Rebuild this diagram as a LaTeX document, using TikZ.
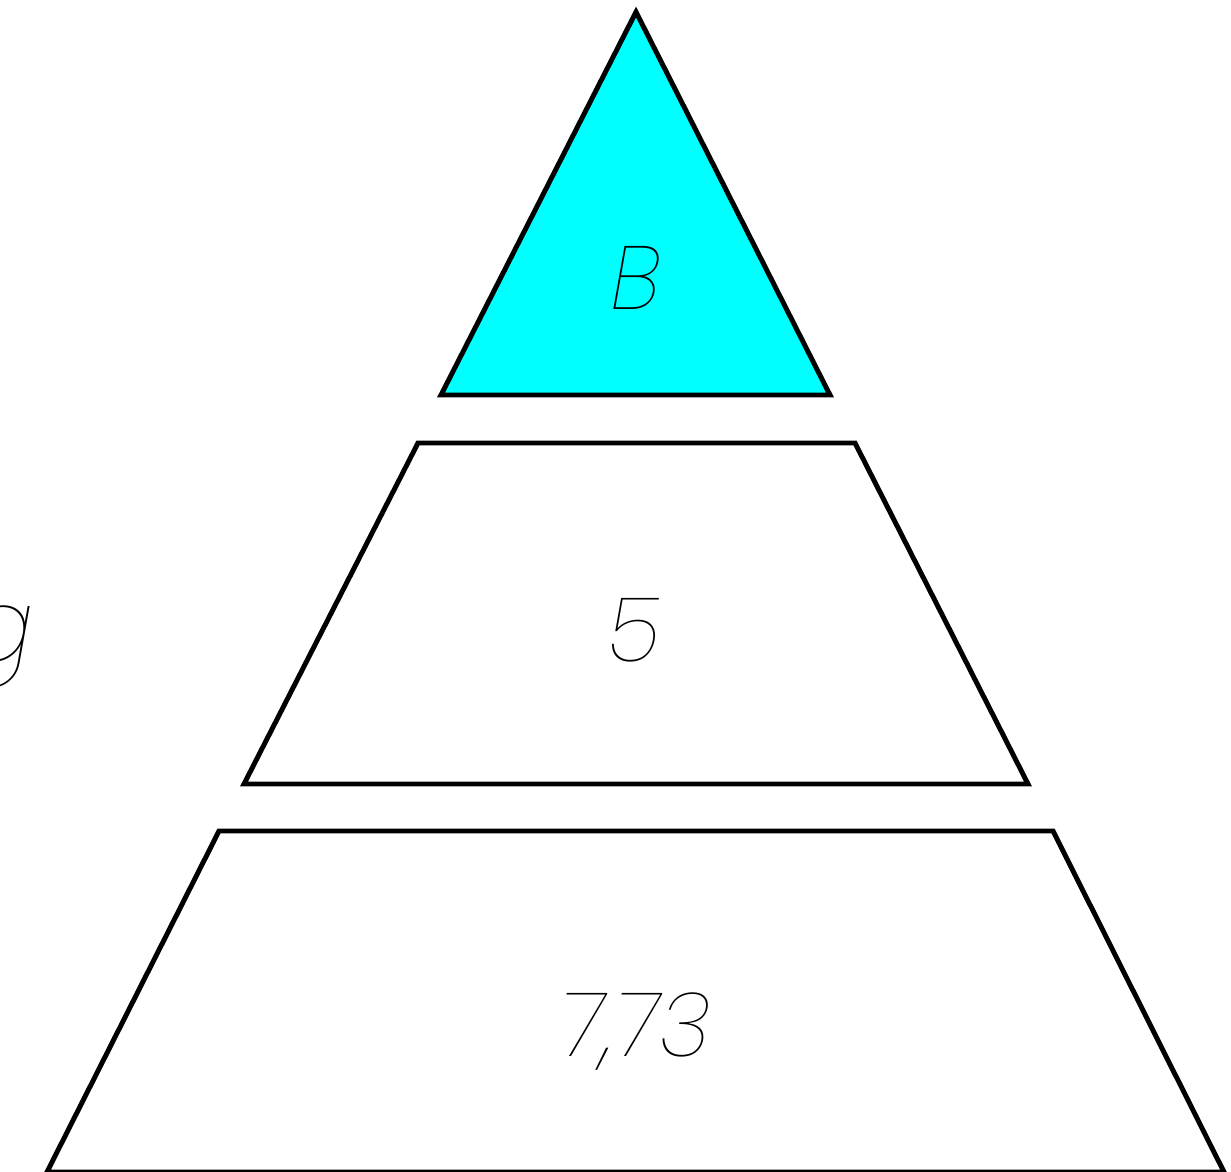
\documentclass[tikz,border=0pt]{standalone}
\usepackage{fontspec}
\newfontfamily\thinit{Poppins}[UprightFont={* Thin Italic}]
\usepackage{tikz}
\usetikzlibrary{positioning}
\definecolor{tipfill}{HTML}{00FFFF}
\tikzset{
  tier/.style ={draw=black, line width=2.8pt, line join=miter},
  lab/.style  ={font=\thinit\fontsize{51}{55}\selectfont, inner sep=0pt, anchor=base},
}
\begin{document}
\begin{tikzpicture}
\useasboundingbox (0,0) rectangle (24.62,23.44);
% --- top of the pyramid ---
\draw[tier,fill=tipfill] (12.72,23.2) -- (16.6,15.54) -- (8.82,15.54) -- cycle;
\node[lab] (tipval) at (12.72,17.25) {B};
% --- middle tier ---
\draw[tier] (8.36,14.58) -- (17.1,14.58) -- (20.56,7.76) -- (4.88,7.76) -- cycle;
\node[lab] (midval) at (12.68,10.2) {5};
% --- bottom tier ---
\draw[tier] (4.38,6.82) -- (21.06,6.82) -- (24.48,0) -- (0.94,0) -- cycle;
\node[lab] (lowval) at (12.7,2.3) {7,73};
% --- side label, cut by the page edge ---
\node[lab,anchor=base east,font=\thinit\fontsize{58}{60}\selectfont] (side) at (0.68,10.2) {g};
\end{tikzpicture}
\end{document}
